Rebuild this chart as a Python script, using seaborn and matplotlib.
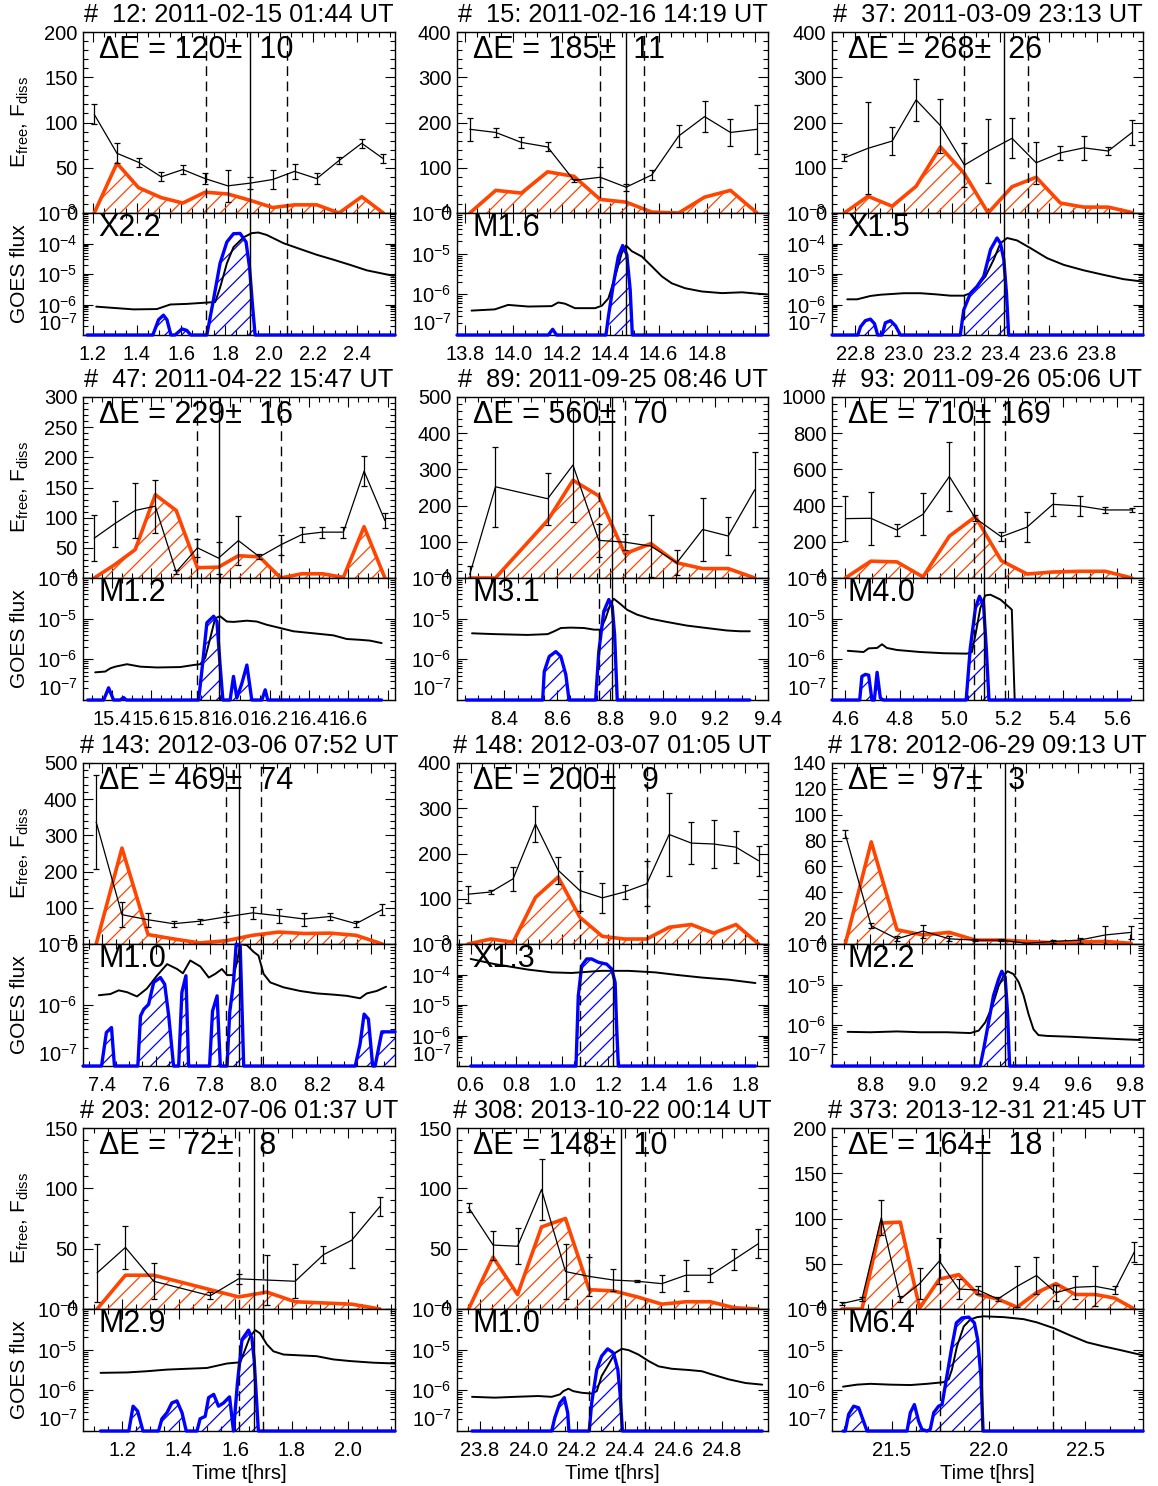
import numpy as np
import matplotlib
matplotlib.use("Agg")
import matplotlib.pyplot as plt
import seaborn as sns
from matplotlib.ticker import (MultipleLocator, AutoMinorLocator, FuncFormatter,
                               FormatStrFormatter, LogLocator, NullFormatter)

# ---------------- event metadata ----------------
EVENT_NUM = [12, 15, 37, 47, 89, 93, 143, 148, 178, 203, 308, 373]
EVENT_DATE = ["2011-02-15 01:44", "2011-02-16 14:19", "2011-03-09 23:13",
              "2011-04-22 15:47", "2011-09-25 08:46", "2011-09-26 05:06",
              "2012-03-06 07:52", "2012-03-07 01:05", "2012-06-29 09:13",
              "2012-07-06 01:37", "2013-10-22 00:14", "2013-12-31 21:45"]
DELTA_E = [120, 185, 268, 229, 560, 710, 469, 200, 97, 72, 148, 164]
DELTA_E_ERR = [10, 11, 26, 16, 70, 169, 74, 9, 3, 8, 10, 18]
GOES_CLASS = ["X2.2", "M1.6", "X1.5", "M1.2", "M3.1", "M4.0",
              "M1.0", "X1.3", "M2.2", "M2.9", "M1.0", "M6.4"]
T_START = [1.712, 14.359, 23.251, 15.834, 8.758, 5.075, 7.862, 1.077, 9.200, 1.614, 24.252, 21.747]
T_PEAK = [1.913, 14.466, 23.414, 15.941, 8.809, 5.109, 7.909, 1.223, 9.319, 1.665, 24.383, 21.966]
T_END = [2.083, 14.538, 23.513, 16.257, 8.857, 5.189, 7.991, 1.372, 9.355, 1.697, 24.483, 22.333]

# ---------------- free energy / dissipated energy ----------------
E1_T = [1.206, 1.309, 1.407, 1.510, 1.608, 1.709, 1.812, 1.914, 2.016, 2.115, 2.216, 2.317, 2.420, 2.518]
E1 = [109, 66, 56, 40, 48, 38, 30, 33, 37, 46, 38, 58, 77, 60]
E1_ERR = [11, 11, 5, 5, 5, 6, 18, 7, 10, 8, 6, 4, 5, 5]
F1 = [0, 55, 28, 17, 11, 23, 21, 14, 6, 9, 9, 0, 18, 0]

E2_T = [13.821, 13.928, 14.034, 14.142, 14.251, 14.359, 14.466, 14.572, 14.683, 14.790, 14.897, 15.007]
E2 = [185, 178, 156, 146, 72, 79, 57, 84, 170, 213, 178, 185]
E2_ERR = [26, 10, 13, 10, 4, 22, 8, 10, 25, 34, 30, 54]
F2 = [0, 50, 44, 91, 81, 30, 24, 2, 0, 35, 50, 0]

E3_T = [22.754, 22.852, 22.952, 23.051, 23.152, 23.251, 23.349, 23.448, 23.548, 23.648, 23.745, 23.846, 23.945]
E3 = [122, 143, 159, 250, 193, 106, 137, 165, 111, 133, 144, 137, 178]
E3_ERR = [8, 102, 30, 47, 60, 48, 70, 44, 47, 15, 26, 8, 27]
F3 = [0, 37, 15, 59, 146, 87, 0, 58, 79, 22, 13, 13, 1]

E4_T = [15.310, 15.414, 15.518, 15.620, 15.726, 15.834, 15.941, 16.042, 16.149, 16.257, 16.364, 16.468, 16.575, 16.680, 16.786]
E4 = [66, 90, 112, 119, 10, 50, 33, 62, 35, 55, 72, 76, 76, 177, 95]
E4_ERR = [38, 38, 45, 44, 4, 15, 27, 40, 4, 17, 13, 9, 9, 25, 12]
F4 = [0, 22, 47, 138, 112, 17, 18, 37, 35, 0, 7, 7, 1, 85, 0]

E5_T = [8.268, 8.366, 8.564, 8.660, 8.758, 8.857, 8.956, 9.054, 9.152, 9.249, 9.350]
E5 = [9, 252, 219, 312, 104, 99, 88, 42, 134, 116, 244]
E5_ERR = [23, 110, 72, 157, 45, 23, 85, 35, 88, 52, 104]
F5 = [0, 0, 159, 270, 227, 67, 95, 42, 26, 26, 0]

E6_T = [4.600, 4.694, 4.790, 4.886, 4.983, 5.079, 5.174, 5.269, 5.364, 5.463, 5.557, 5.655]
E6 = [328, 330, 265, 352, 561, 330, 228, 281, 407, 398, 376, 376]
E6_ERR = [125, 146, 32, 116, 190, 17, 25, 83, 64, 53, 16, 9]
F6 = [0, 93, 89, 6, 231, 339, 96, 22, 33, 37, 37, 0]

E7_T = [7.378, 7.474, 7.571, 7.666, 7.763, 7.861, 7.960, 8.057, 8.152, 8.249, 8.345, 8.443]
E7 = [337, 81, 67, 56, 63, 75, 86, 78, 69, 76, 56, 95]
E7_ERR = [130, 35, 19, 8, 7, 13, 17, 20, 18, 10, 8, 16]
F7 = [0, 265, 26, 14, 3, 9, 24, 33, 29, 30, 24, 0]

E8_T = [0.588, 0.688, 0.785, 0.883, 0.982, 1.077, 1.175, 1.272, 1.369, 1.467, 1.564, 1.661, 1.759, 1.858]
E8 = [110, 115, 144, 265, 163, 118, 102, 115, 133, 242, 223, 221, 214, 184]
E8_ERR = [19, 5, 26, 40, 30, 44, 33, 15, 50, 91, 46, 53, 35, 33]
F8 = [0, 11, 4, 103, 148, 59, 17, 11, 11, 37, 43, 24, 43, 0]

E9_T = [8.704, 8.804, 8.903, 9.003, 9.104, 9.204, 9.304, 9.403, 9.503, 9.605, 9.704, 9.804]
E9 = [85, 14, 4, 10, 4, 3, 3, 0.5, 2, 3, 7, 9]
E9_ERR = [3, 2, 2, 5, 2, 1, 1, 0.5, 1, 2, 7, 5]
F9 = [0, 79, 11, 7, 9, 3, 3, 2, 1, 1.5, 2, 0.5]

E10_T = [1.112, 1.212, 1.312, 1.512, 1.612, 1.712, 1.812, 1.912, 2.012, 2.112]
E10 = [30, 51, 23, 11, 25, 24, 23, 45, 57, 85]
E10_ERR = [24, 18, 15, 3, 4, 21, 14, 7, 23, 8]
F10_T = [1.112, 1.212, 1.312, 1.612, 1.712, 1.812, 1.912, 2.012, 2.112]
F10 = [0, 28, 28, 10, 14, 6, 5, 4, 0]

E11_T = [23.754, 23.855, 23.956, 24.055, 24.154, 24.252, 24.352, 24.451, 24.552, 24.651, 24.752, 24.851, 24.949]
E11 = [84, 53, 52, 99, 31, 27, 24, 23, 21, 28, 28, 41, 54]
E11_ERR = [4, 12, 15, 25, 23, 16, 9, 1, 7, 13, 6, 9, 12]
F11 = [0, 43, 12, 68, 75, 16, 15, 10, 4, 6, 6, 1, 0]

E12_T = [21.241, 21.345, 21.445, 21.543, 21.643, 21.745, 21.845, 21.945, 22.047, 22.147, 22.247, 22.348, 22.448, 22.552, 22.652, 22.753]
E12 = [6, 11, 101, 11, 28, 53, 22, 21, 11, 25, 37, 18, 24, 25, 21, 63]
E12_ERR = [2, 2, 19, 3, 17, 25, 11, 4, 2, 23, 20, 9, 13, 22, 4, 11]
F12 = [0, 0, 95, 96, 1, 33, 38, 16, 11, 2, 18, 28, 16, 16, 12, 0]

# ---------------- GOES flux (log10 W/m^2) and its derivative ----------------
G1_T = [1.215, 1.384, 1.490, 1.551, 1.626, 1.732, 1.755, 1.777, 1.808, 1.838, 1.883, 1.921, 1.951, 1.989, 2.065, 2.140, 2.216, 2.291, 2.367, 2.443, 2.564]
G1 = [-6.07, -6.16, -6.15, -6.00, -5.98, -5.93, -5.92, -5.45, -4.65, -4.12, -3.80, -3.66, -3.64, -3.72, -3.99, -4.18, -4.37, -4.53, -4.70, -4.88, -5.06]
D1_T = [1.173, 1.472, 1.498, 1.520, 1.536, 1.554, 1.573, 1.604, 1.626, 1.644, 1.717, 1.747, 1.777, 1.808, 1.838, 1.868, 1.895, 1.911, 1.924, 1.936, 2.571]
D1 = [-7, -7, -6.5, -6.35, -6.5, -7, -7, -6.8, -6.85, -7, -7, -5.85, -4.65, -3.95, -3.68, -3.67, -3.95, -4.8, -6.0, -7, -7]

G2_T = [13.828, 13.924, 13.979, 14.062, 14.159, 14.186, 14.214, 14.255, 14.338, 14.366, 14.393, 14.421, 14.448, 14.466, 14.490, 14.531, 14.572, 14.614, 14.655, 14.710, 14.779, 14.862, 14.945, 15.000, 15.048]
G2 = [-6.40, -6.37, -6.26, -6.30, -6.29, -6.20, -6.23, -6.34, -6.34, -6.28, -6.10, -5.56, -4.99, -4.80, -4.94, -5.07, -5.31, -5.56, -5.73, -5.85, -5.93, -5.97, -5.95, -5.98, -6.00]
D2_T = [13.768, 14.145, 14.163, 14.179, 14.383, 14.393, 14.414, 14.434, 14.452, 14.469, 14.483, 14.492, 15.052]
D2 = [-7, -7, -6.86, -7, -7, -6.55, -5.73, -5.07, -4.80, -5.02, -5.89, -7, -7]

G3_T = [22.766, 22.807, 22.862, 22.903, 23.000, 23.069, 23.138, 23.193, 23.248, 23.276, 23.303, 23.338, 23.372, 23.400, 23.428, 23.469, 23.524, 23.593, 23.662, 23.745, 23.828, 23.910, 23.990]
G3 = [-5.83, -5.83, -5.72, -5.68, -5.63, -5.63, -5.67, -5.71, -5.71, -5.63, -5.41, -5.08, -4.53, -3.99, -3.82, -3.90, -4.15, -4.48, -4.70, -4.88, -5.03, -5.17, -5.25]
D3_T = [22.703, 22.810, 22.821, 22.841, 22.862, 22.879, 22.892, 22.910, 22.924, 22.945, 22.966, 22.986, 23.234, 23.248, 23.276, 23.303, 23.331, 23.359, 23.386, 23.400, 23.414, 23.425, 23.434, 23.990]
D3 = [-7, -7, -6.73, -6.53, -6.48, -6.63, -7, -7, -6.60, -6.53, -6.70, -7, -7, -6.18, -5.63, -5.41, -5.08, -4.20, -3.82, -3.99, -4.53, -5.63, -7, -7]

G4_T = [15.315, 15.366, 15.392, 15.417, 15.476, 15.544, 15.628, 15.747, 15.814, 15.848, 15.873, 15.899, 15.924, 15.949, 15.983, 16.017, 16.085, 16.135, 16.186, 16.254, 16.321, 16.423, 16.524, 16.592, 16.660, 16.710, 16.769]
G4 = [-6.32, -6.30, -6.22, -6.18, -6.12, -6.18, -6.20, -6.19, -6.14, -6.12, -5.97, -5.48, -4.99, -4.94, -5.07, -5.08, -5.05, -5.07, -5.15, -5.23, -5.31, -5.36, -5.41, -5.50, -5.52, -5.54, -5.60]
D4_T = [15.277, 15.358, 15.383, 15.408, 15.442, 15.459, 15.473, 15.840, 15.856, 15.882, 15.916, 15.933, 15.949, 15.963, 16.000, 16.017, 16.034, 16.059, 16.085, 16.110, 16.161, 16.178, 16.191, 16.769]
D4 = [-7, -7, -6.70, -7, -7, -6.94, -7, -7, -6.30, -5.10, -4.94, -5.07, -6.14, -7, -7, -6.42, -6.95, -6.60, -6.14, -7, -7, -6.75, -7, -7]

G5_T = [8.277, 8.362, 8.488, 8.564, 8.589, 8.614, 8.652, 8.702, 8.740, 8.765, 8.784, 8.803, 8.815, 8.840, 8.865, 8.903, 8.953, 9.016, 9.092, 9.167, 9.243, 9.293, 9.331]
G5 = [-5.36, -5.38, -5.40, -5.38, -5.31, -5.23, -5.22, -5.23, -5.27, -5.27, -4.99, -4.62, -4.51, -4.64, -4.78, -4.90, -5.00, -5.08, -5.17, -5.23, -5.29, -5.31, -5.31]
D5_T = [8.255, 8.545, 8.551, 8.570, 8.595, 8.614, 8.633, 8.645, 8.746, 8.758, 8.777, 8.796, 8.809, 8.818, 8.828, 9.331]
D5 = [-7, -7, -6.30, -5.93, -5.81, -5.93, -6.38, -7, -7, -5.81, -4.82, -4.53, -4.70, -5.40, -7, -7]

G6_T = [4.609, 4.667, 4.686, 4.717, 4.735, 4.753, 4.790, 4.876, 4.962, 5.048, 5.066, 5.079, 5.097, 5.115, 5.134, 5.171, 5.207, 5.213, 5.226]
G6 = [-5.79, -5.82, -5.73, -5.72, -5.63, -5.72, -5.77, -5.82, -5.85, -5.86, -5.82, -5.40, -4.74, -4.43, -4.41, -4.53, -4.74, -4.78, -7.5]
D6_T = [4.551, 4.653, 4.661, 4.674, 4.686, 4.698, 4.707, 4.717, 4.729, 4.739, 5.045, 5.060, 5.079, 5.094, 5.109, 5.119, 5.129, 5.649]
D6 = [-7, -7, -6.42, -6.37, -6.39, -7, -7, -6.32, -6.95, -7, -7, -5.73, -4.74, -4.45, -4.66, -5.73, -7, -7]

G7_T = [7.388, 7.431, 7.462, 7.493, 7.530, 7.567, 7.604, 7.642, 7.679, 7.701, 7.728, 7.766, 7.797, 7.821, 7.846, 7.865, 7.889, 7.902, 7.914, 7.939, 7.964, 7.982, 8.001, 8.026, 8.075, 8.137, 8.199, 8.261, 8.311, 8.360, 8.385, 8.422, 8.457]
G7 = [-5.84, -5.82, -5.76, -5.79, -5.86, -5.73, -5.52, -5.33, -5.41, -5.48, -5.27, -5.37, -5.55, -5.49, -5.41, -5.51, -5.51, -5.30, -5.00, -5.02, -5.13, -5.19, -5.49, -5.63, -5.71, -5.77, -5.81, -5.83, -5.85, -5.89, -5.81, -5.77, -5.70]
D7_T = [7.329, 7.398, 7.416, 7.435, 7.446, 7.533, 7.543, 7.555, 7.573, 7.592, 7.617, 7.633, 7.648, 7.666, 7.685, 7.697, 7.712, 7.722, 7.800, 7.811, 7.828, 7.840, 7.865, 7.875, 7.889, 7.899, 7.914, 7.927, 8.342, 8.360, 8.375, 8.391, 8.407, 8.416, 8.441, 8.490]
D7 = [-7, -7, -6.45, -6.37, -7, -7, -6.18, -6.07, -5.99, -5.63, -5.55, -5.66, -6.18, -7, -7, -5.79, -5.52, -7, -7, -6.10, -5.85, -7, -7, -6.12, -5.63, -5.00, -5.03, -7, -7, -6.64, -6.15, -6.23, -7, -7, -6.44, -6.44]

G8_T = [0.600, 0.705, 0.851, 0.953, 1.041, 1.114, 1.172, 1.289, 1.406, 1.508, 1.610, 1.727, 1.844]
G8 = [-3.49, -3.66, -3.84, -3.93, -3.95, -3.91, -3.88, -3.88, -3.93, -4.02, -4.10, -4.17, -4.28]
D8_T = [0.600, 1.060, 1.070, 1.085, 1.107, 1.128, 1.158, 1.194, 1.216, 1.231, 1.238, 1.245, 1.844]
D8 = [-7, -7, -4.70, -3.71, -3.49, -3.49, -3.60, -3.66, -3.82, -4.26, -5.79, -7, -7]

G9_T = [8.713, 8.800, 8.903, 8.992, 9.095, 9.185, 9.217, 9.242, 9.268, 9.294, 9.313, 9.328, 9.351, 9.371, 9.390, 9.409, 9.428, 9.447, 9.479, 9.569, 9.633, 9.697, 9.762, 9.838]
G9 = [-6.16, -6.17, -6.15, -6.17, -6.17, -6.19, -6.13, -5.93, -5.56, -5.03, -4.78, -4.67, -4.74, -4.94, -5.27, -5.73, -6.10, -6.24, -6.26, -6.28, -6.30, -6.32, -6.34, -6.36]
D9_T = [8.653, 9.223, 9.236, 9.255, 9.274, 9.294, 9.306, 9.319, 9.328, 9.336, 9.849]
D9 = [-7, -7, -6.59, -5.93, -5.27, -4.86, -4.67, -4.82, -5.68, -7, -7]

G10_T = [1.124, 1.218, 1.288, 1.359, 1.429, 1.500, 1.571, 1.618, 1.635, 1.653, 1.671, 1.688, 1.712, 1.735, 1.771, 1.829, 1.888, 1.947, 2.006, 2.088, 2.165]
G10 = [-5.57, -5.56, -5.53, -5.49, -5.47, -5.45, -5.34, -5.31, -5.00, -4.67, -4.52, -4.60, -4.87, -5.04, -5.12, -5.14, -5.16, -5.24, -5.28, -5.32, -5.34]
D10_T = [1.124, 1.224, 1.239, 1.255, 1.274, 1.329, 1.341, 1.359, 1.376, 1.394, 1.412, 1.427, 1.465, 1.476, 1.494, 1.506, 1.524, 1.541, 1.559, 1.580, 1.594, 1.608, 1.624, 1.647, 1.659, 1.667, 1.674, 1.682, 2.165]
D10 = [-7, -7, -6.39, -6.51, -7, -7, -6.70, -6.55, -6.31, -6.26, -6.55, -7, -7, -6.70, -6.64, -6.18, -6.10, -6.39, -6.31, -6.16, -7, -5.82, -4.75, -4.52, -4.71, -5.24, -6.06, -7, -7]

G11_T = [23.768, 23.862, 23.945, 24.041, 24.097, 24.131, 24.145, 24.166, 24.186, 24.221, 24.262, 24.283, 24.303, 24.331, 24.359, 24.386, 24.414, 24.455, 24.497, 24.538, 24.593, 24.662, 24.717, 24.759, 24.828, 24.897, 24.966]
G11 = [-6.16, -6.18, -6.16, -6.14, -6.16, -6.10, -6.02, -5.96, -6.02, -6.06, -6.08, -6.02, -5.65, -5.37, -5.08, -4.98, -5.01, -5.12, -5.28, -5.41, -5.47, -5.50, -5.53, -5.61, -5.73, -5.82, -5.86]
D11_T = [23.768, 24.097, 24.110, 24.131, 24.149, 24.163, 24.168, 24.252, 24.262, 24.283, 24.303, 24.328, 24.352, 24.370, 24.379, 24.389, 24.966]
D11 = [-7, -7, -6.67, -6.31, -6.18, -6.55, -7, -7, -6.31, -5.49, -5.16, -4.98, -5.08, -5.49, -6.06, -7, -7]

G12_T = [21.247, 21.319, 21.388, 21.491, 21.595, 21.681, 21.767, 21.793, 21.810, 21.836, 21.871, 21.905, 21.940, 21.974, 22.078, 22.181, 22.250, 22.336, 22.422, 22.509, 22.595, 22.681, 22.798]
G12 = [-5.91, -5.86, -5.84, -5.86, -5.87, -5.84, -5.80, -5.73, -5.49, -4.92, -4.43, -4.26, -4.20, -4.18, -4.20, -4.25, -4.33, -4.47, -4.65, -4.82, -4.92, -5.01, -5.14]
D12_T = [21.247, 21.259, 21.276, 21.302, 21.328, 21.353, 21.371, 21.578, 21.595, 21.616, 21.638, 21.655, 21.681, 21.698, 21.716, 21.741, 21.759, 21.784, 21.810, 21.833, 21.862, 21.897, 21.926, 21.943, 21.960, 21.971, 22.798]
D12 = [-7, -7, -6.59, -6.39, -6.43, -6.76, -7, -7, -6.55, -6.35, -6.76, -6.96, -7, -6.96, -6.55, -6.39, -6.35, -5.65, -4.92, -4.34, -4.22, -4.20, -4.34, -4.75, -5.65, -7, -7]

# ---------------- axis settings per panel ----------------
X_LIM = [(1.155, 2.571), (13.768, 15.052), (22.703, 23.99), (15.253, 16.837),
         (8.22, 9.40), (4.551, 5.696), (7.329, 8.49), (0.54, 1.899),
         (8.653, 9.849), (1.062, 2.165), (23.706, 24.99), (21.19, 22.798)]
X_STEP = [0.2] * 11 + [0.5]
X_LABELED = [[1.2, 1.4, 1.6, 1.8, 2.0, 2.2, 2.4],
             [13.8, 14.0, 14.2, 14.4, 14.6, 14.8],
             [22.8, 23.0, 23.2, 23.4, 23.6, 23.8],
             [15.4, 15.6, 15.8, 16.0, 16.2, 16.4, 16.6],
             [8.4, 8.6, 8.8, 9.0, 9.2, 9.4],
             [4.6, 4.8, 5.0, 5.2, 5.4, 5.6],
             [7.4, 7.6, 7.8, 8.0, 8.2, 8.4],
             [0.6, 0.8, 1.0, 1.2, 1.4, 1.6, 1.8],
             [8.8, 9.0, 9.2, 9.4, 9.6, 9.8],
             [1.2, 1.4, 1.6, 1.8, 2.0],
             [23.8, 24.0, 24.2, 24.4, 24.6, 24.8],
             [21.5, 22.0, 22.5]]
Y_MAX = [200, 400, 400, 300, 500, 1000, 500, 400, 140, 150, 150, 200]
Y_STEP = [50, 100, 100, 50, 100, 200, 100, 100, 20, 50, 50, 50]
GOES_TOP = [1e-3, 1e-4, 1e-3, 1e-4, 1e-4, 1e-4, 1e-5, 1e-3, 1e-4, 1e-4, 1e-4, 1e-4]
GOES_BOTTOM = 1e-7

E_T = [E1_T, E2_T, E3_T, E4_T, E5_T, E6_T, E7_T, E8_T, E9_T, E10_T, E11_T, E12_T]
E_V = [E1, E2, E3, E4, E5, E6, E7, E8, E9, E10, E11, E12]
E_ERR = [E1_ERR, E2_ERR, E3_ERR, E4_ERR, E5_ERR, E6_ERR, E7_ERR, E8_ERR, E9_ERR, E10_ERR, E11_ERR, E12_ERR]
F_T = [E1_T, E2_T, E3_T, E4_T, E5_T, E6_T, E7_T, E8_T, E9_T, F10_T, E11_T, E12_T]
F_V = [F1, F2, F3, F4, F5, F6, F7, F8, F9, F10, F11, F12]
G_T = [G1_T, G2_T, G3_T, G4_T, G5_T, G6_T, G7_T, G8_T, G9_T, G10_T, G11_T, G12_T]
G_V = [G1, G2, G3, G4, G5, G6, G7, G8, G9, G10, G11, G12]
D_T = [D1_T, D2_T, D3_T, D4_T, D5_T, D6_T, D7_T, D8_T, D9_T, D10_T, D11_T, D12_T]
D_V = [D1, D2, D3, D4, D5, D6, D7, D8, D9, D10, D11, D12]

# ---------------- style ----------------
sns.set_theme(style="ticks")
plt.rcParams["font.family"] = ["Liberation Sans", "DejaVu Sans"]
plt.rcParams["mathtext.fontset"] = "custom"
plt.rcParams["mathtext.rm"] = "Liberation Sans"
plt.rcParams["mathtext.it"] = "Liberation Sans:italic"
plt.rcParams["mathtext.bf"] = "Liberation Sans:bold"
plt.rcParams["mathtext.sf"] = "Liberation Sans"
plt.rcParams["hatch.linewidth"] = 0.9
plt.rcParams["axes.edgecolor"] = "black"
plt.rcParams["axes.linewidth"] = 1.0
plt.rcParams["text.color"] = "black"
plt.rcParams["axes.labelcolor"] = "black"
plt.rcParams["xtick.color"] = "black"
plt.rcParams["ytick.color"] = "black"

RED = "#ff4500"
BLUE = "#0000ff"

FIG_W, FIG_H = 1158, 1486
COL_X = [83, 457, 832]
COL_W = [312, 311, 311]
ROW_Y = [32, 397, 763, 1128]
H_TOP, H_BOT = 181, 122

fig = plt.figure(figsize=(FIG_W / 100, FIG_H / 100), dpi=100)


def style_axis(ax):
    ax.tick_params(which="both", direction="in", top=True, right=True,
                   colors="black", labelcolor="black", labelsize=14.5, width=0.8)
    ax.tick_params(which="major", length=7)
    ax.tick_params(which="minor", length=3.5)
    ax.tick_params(axis="y", which="major", pad=4)
    ax.tick_params(axis="x", which="major", pad=7)
    for s in ax.spines.values():
        s.set_color("black")
        s.set_linewidth(1.0)


def x_formatter(labeled):
    def fmt(v, pos):
        for t in labeled:
            if abs(v - t) < 1e-6:
                return f"{t:.1f}"
        return ""
    return FuncFormatter(fmt)


bottom_axes = []
for i in range(12):
    row, col = divmod(i, 3)
    x0 = COL_X[col] / FIG_W
    w = COL_W[col] / FIG_W
    yt = ROW_Y[row]
    ax1 = fig.add_axes([x0, 1 - (yt + H_TOP) / FIG_H, w, H_TOP / FIG_H])
    ax2 = fig.add_axes([x0, 1 - (yt + H_TOP + H_BOT) / FIG_H, w, H_BOT / FIG_H], sharex=ax1)
    bottom_axes.append(ax2)

    # ---- top panel: free energy and dissipated energy ----
    ax1.fill_between(F_T[i], 0, F_V[i], facecolor="none", edgecolor=RED,
                     hatch="//", linewidth=0, zorder=1)
    sns.lineplot(x=F_T[i], y=F_V[i], color=RED, linewidth=2.6, ax=ax1,
                 estimator=None, sort=False, zorder=2)
    sns.lineplot(x=E_T[i], y=E_V[i], color="black", linewidth=0.9, ax=ax1,
                 estimator=None, sort=False, zorder=3)
    ax1.errorbar(E_T[i], E_V[i], yerr=E_ERR[i], fmt="none", ecolor="black",
                 elinewidth=0.9, capsize=2.5, capthick=0.9, zorder=3)
    ax1.set_xlim(*X_LIM[i])
    ax1.set_ylim(0, Y_MAX[i])
    ax1.yaxis.set_major_locator(MultipleLocator(Y_STEP[i]))
    ax1.yaxis.set_minor_locator(AutoMinorLocator(5))
    ax1.yaxis.set_major_formatter(FormatStrFormatter("%d"))
    ax1.xaxis.set_major_locator(MultipleLocator(X_STEP[i]))
    ax1.xaxis.set_minor_locator(AutoMinorLocator(4))
    ax1.xaxis.set_major_formatter(x_formatter(X_LABELED[i]))
    style_axis(ax1)
    ax1.tick_params(labelbottom=False)
    ax1.set_xlabel("")
    ax1.set_ylabel("")
    ax1.set_title(f"#{EVENT_NUM[i]:4d}: {EVENT_DATE[i]} UT", fontsize=18.3, pad=7)
    ax1.text(0.05, 0.985, f"\u0394E = {DELTA_E[i]:3d}\u00b1 {DELTA_E_ERR[i]:3d}",
             transform=ax1.transAxes, fontsize=22, ha="left", va="top", zorder=5)

    # ---- bottom panel: GOES flux ----
    ax2.set_yscale("log")
    gv = np.power(10.0, G_V[i])
    dv = np.power(10.0, D_V[i])
    ax2.fill_between(D_T[i], GOES_BOTTOM, dv, facecolor="none", edgecolor=BLUE,
                     hatch="//", linewidth=0, zorder=1)
    sns.lineplot(x=G_T[i], y=gv, color="black", linewidth=1.4, ax=ax2,
                 estimator=None, sort=False, zorder=2)
    sns.lineplot(x=D_T[i], y=dv, color=BLUE, linewidth=2.4, ax=ax2,
                 estimator=None, sort=False, zorder=3, clip_on=False)
    ax2.set_ylim(GOES_BOTTOM, GOES_TOP[i])
    ax2.yaxis.set_major_locator(LogLocator(base=10, numticks=12))
    ax2.yaxis.set_minor_locator(LogLocator(base=10, subs=np.arange(2, 10), numticks=12))
    ax2.yaxis.set_minor_formatter(NullFormatter())
    style_axis(ax2)
    ax2.set_xlim(*X_LIM[i])
    ax2.set_ylabel("")
    ax2.set_xlabel("Time t[hrs]" if row == 3 else "", fontsize=14.5, labelpad=3)
    ax2.text(0.05, 1.0, GOES_CLASS[i], transform=ax2.transAxes, fontsize=22,
             ha="left", va="top", zorder=5)

    # ---- flare start / peak / end markers ----
    for ax in (ax1, ax2):
        ax.axvline(T_START[i], color="black", linewidth=1.0, dashes=(7, 4), zorder=4)
        ax.axvline(T_PEAK[i], color="black", linewidth=1.0, zorder=4)
        ax.axvline(T_END[i], color="black", linewidth=1.0, dashes=(7, 4), zorder=4)

    if col == 0:
        fig.text(20 / FIG_W, 1 - (yt + H_TOP / 2) / FIG_H,
                 r"E$_{\rm free}$, F$_{\rm diss}$", rotation=90,
                 ha="center", va="center", fontsize=15)
        fig.text(20 / FIG_W, 1 - (yt + H_TOP + H_BOT / 2) / FIG_H,
                 "GOES flux", rotation=90, ha="center", va="center", fontsize=15)

# lift the lowest GOES label so it sits on the bottom axis line, as in the original
fig.canvas.draw()
for ax in bottom_axes:
    for tick in ax.yaxis.get_major_ticks():
        loc = tick.get_loc()
        if loc > 0 and abs(np.log10(loc) + 7) < 1e-3:
            tick.label1.set_verticalalignment("bottom")

fig.savefig("out.png", dpi=100)
